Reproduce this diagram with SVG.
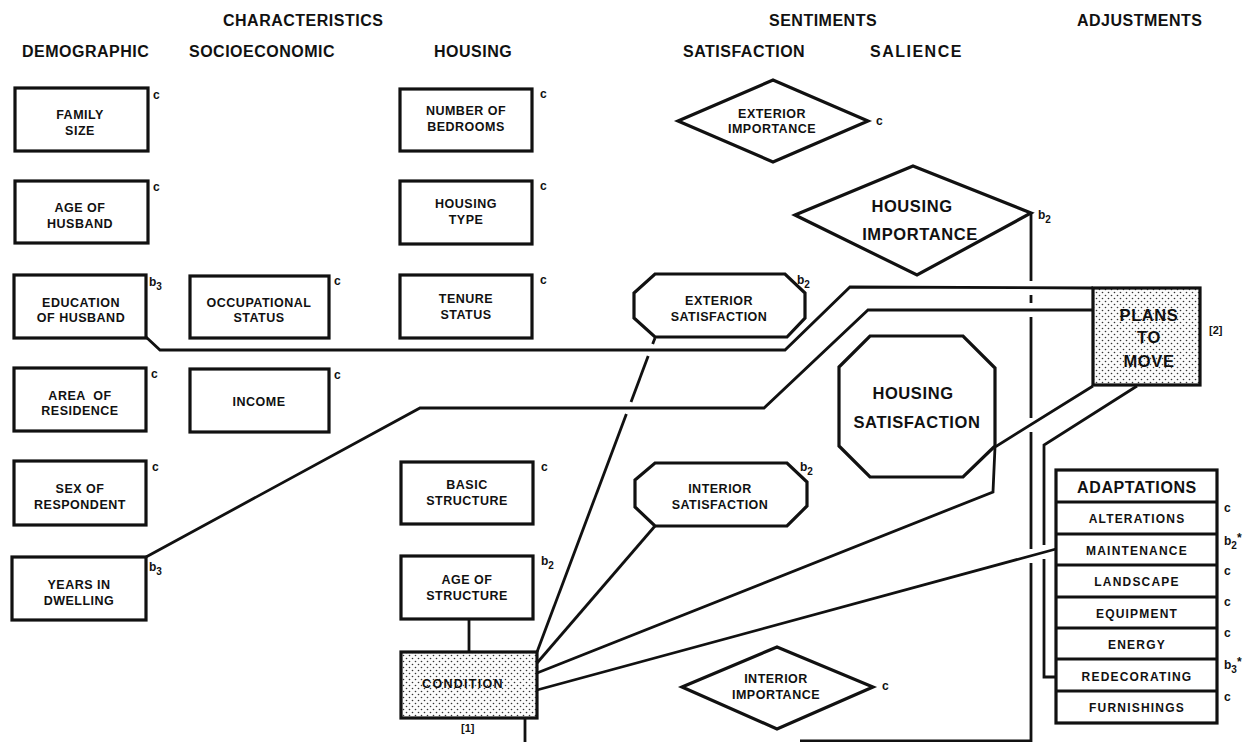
<svg xmlns="http://www.w3.org/2000/svg" width="1255" height="742" viewBox="0 0 1255 742">
  <style>
    text { font-family: "Liberation Sans", Arial, Helvetica, sans-serif; font-weight: bold; fill: #111; }
    .hdr { font-size: 16px; letter-spacing: 0.5px; }
    .lbl { font-size: 12.5px; letter-spacing: 0.5px; text-anchor: middle; }
    .big { font-size: 16.5px; letter-spacing: 0.6px; text-anchor: middle; }
    .row { font-size: 12px; letter-spacing: 1.2px; text-anchor: middle; }
    .note { font-size: 12px; }
    .sub { font-size: 10px; }
    .box { fill: #fff; stroke: #111; stroke-width: 3.2; stroke-linejoin: miter; }
    .dot { fill: url(#stipple); stroke: #111; stroke-width: 3.2; }
    .ln { fill: none; stroke: #111; stroke-width: 2.8; stroke-linejoin: miter; stroke-linecap: butt; }
  </style>
  <defs>
    <pattern id="stipple" width="6" height="6" patternUnits="userSpaceOnUse">
      <rect width="6" height="6" fill="#fbfbfb"/>
      <circle cx="1.5" cy="1.5" r="0.8" fill="#333"/>
      <circle cx="4.5" cy="4.5" r="0.8" fill="#333"/>
    </pattern>
  </defs>

  <rect width="1255" height="742" fill="#fff"/>

  <!-- column headings -->
  <g id="headings">
    <text class="hdr" x="223" y="26">CHARACTERISTICS</text>
    <text class="hdr" x="22" y="57">DEMOGRAPHIC</text>
    <text class="hdr" x="189" y="57">SOCIOECONOMIC</text>
    <text class="hdr" x="434" y="57">HOUSING</text>
    <text class="hdr" x="769" y="26">SENTIMENTS</text>
    <text class="hdr" x="683" y="57">SATISFACTION</text>
    <text class="hdr" x="870" y="57" style="letter-spacing:1.5px">SALIENCE</text>
    <text class="hdr" x="1077" y="26">ADJUSTMENTS</text>
  </g>

  <!-- connectors -->
  <g id="connectors">
    <!-- education of husband to plans to move -->
    <polyline class="ln" points="146,337 160,350 785,350 850,287 1093,288"/>
    <!-- years in dwelling to plans to move -->
    <polyline class="ln" points="146,557 420,408 764,408 868,310 1093,310"/>
    <!-- condition to exterior satisfaction (broken at crossings) -->
    <line class="ln" x1="537" y1="652" x2="626.4" y2="414"/>
    <line class="ln" x1="631" y1="402" x2="648.2" y2="356"/>
    <line class="ln" x1="652.7" y1="344" x2="655" y2="338"/>
    <!-- condition to interior satisfaction -->
    <line class="ln" x1="537" y1="663" x2="655" y2="526"/>
    <!-- condition to housing satisfaction to plans to move -->
    <polyline class="ln" points="537,673 993,492 995,447 1093,386"/>
    <!-- condition to maintenance -->
    <line class="ln" x1="537" y1="690" x2="1056" y2="549"/>
    <!-- housing importance down the page (broken at crossings) -->
    <line class="ln" x1="1031" y1="213" x2="1031" y2="281"/>
    <line class="ln" x1="1031" y1="295" x2="1031" y2="303"/>
    <line class="ln" x1="1031" y1="317" x2="1031" y2="418"/>
    <line class="ln" x1="1031" y1="432" x2="1031" y2="549"/>
    <polyline class="ln" points="1031,563 1031,741 800,741"/>
    <!-- plans to move to redecorating -->
    <polyline class="ln" points="1137,386 1044,445 1044,545"/>
    <polyline class="ln" points="1044,559 1044,677 1056,677"/>
    <!-- age of structure to condition, condition down the page -->
    <line class="ln" x1="469" y1="619" x2="469" y2="652"/>
    <line class="ln" x1="525" y1="718" x2="525" y2="742"/>
  </g>

  <!-- demographic characteristics -->
  <g id="family-size">
    <rect class="box" x="15" y="88" width="133" height="63"/>
    <text class="lbl" x="80" y="119">FAMILY</text>
    <text class="lbl" x="80" y="135">SIZE</text>
    <text class="note" x="153" y="99">c</text>
  </g>
  <g id="age-of-husband">
    <rect class="box" x="15" y="181" width="133" height="62"/>
    <text class="lbl" x="80" y="212">AGE OF</text>
    <text class="lbl" x="80" y="228">HUSBAND</text>
    <text class="note" x="153" y="191">c</text>
  </g>
  <g id="education-of-husband">
    <rect class="box" x="14" y="275" width="132" height="63"/>
    <text class="lbl" x="81" y="307">EDUCATION</text>
    <text class="lbl" x="81" y="322">OF HUSBAND</text>
    <text class="note" x="149" y="286">b<tspan class="sub" dy="4">3</tspan></text>
  </g>
  <g id="area-of-residence">
    <rect class="box" x="14" y="368" width="132" height="63"/>
    <text class="lbl" x="80" y="400" xml:space="preserve">AREA  OF</text>
    <text class="lbl" x="80" y="415">RESIDENCE</text>
    <text class="note" x="151" y="378">c</text>
  </g>
  <g id="sex-of-respondent">
    <rect class="box" x="14" y="461" width="132" height="64"/>
    <text class="lbl" x="80" y="493">SEX OF</text>
    <text class="lbl" x="80" y="509">RESPONDENT</text>
    <text class="note" x="152" y="471">c</text>
  </g>
  <g id="years-in-dwelling">
    <rect class="box" x="12" y="557" width="134" height="63"/>
    <text class="lbl" x="79" y="589">YEARS IN</text>
    <text class="lbl" x="79" y="605">DWELLING</text>
    <text class="note" x="149" y="571">b<tspan class="sub" dy="4">3</tspan></text>
  </g>

  <!-- socioeconomic characteristics -->
  <g id="occupational-status">
    <rect class="box" x="190" y="276" width="139" height="62"/>
    <text class="lbl" x="259" y="307">OCCUPATIONAL</text>
    <text class="lbl" x="259" y="322">STATUS</text>
    <text class="note" x="334" y="285">c</text>
  </g>
  <g id="income">
    <rect class="box" x="190" y="369" width="139" height="63"/>
    <text class="lbl" x="259" y="406">INCOME</text>
    <text class="note" x="334" y="379">c</text>
  </g>

  <!-- housing characteristics -->
  <g id="number-of-bedrooms">
    <rect class="box" x="400" y="89" width="132" height="62"/>
    <text class="lbl" x="466" y="115">NUMBER OF</text>
    <text class="lbl" x="466" y="131">BEDROOMS</text>
    <text class="note" x="540" y="98">c</text>
  </g>
  <g id="housing-type">
    <rect class="box" x="400" y="181" width="132" height="63"/>
    <text class="lbl" x="466" y="208">HOUSING</text>
    <text class="lbl" x="466" y="224">TYPE</text>
    <text class="note" x="540" y="190">c</text>
  </g>
  <g id="tenure-status">
    <rect class="box" x="400" y="275" width="132" height="63"/>
    <text class="lbl" x="466" y="303">TENURE</text>
    <text class="lbl" x="466" y="319">STATUS</text>
    <text class="note" x="540" y="284">c</text>
  </g>
  <g id="basic-structure">
    <rect class="box" x="401" y="462" width="132" height="62"/>
    <text class="lbl" x="467" y="489">BASIC</text>
    <text class="lbl" x="467" y="505">STRUCTURE</text>
    <text class="note" x="541" y="471">c</text>
  </g>
  <g id="age-of-structure">
    <rect class="box" x="401" y="556" width="132" height="63"/>
    <text class="lbl" x="467" y="584">AGE OF</text>
    <text class="lbl" x="467" y="600">STRUCTURE</text>
    <text class="note" x="541" y="565">b<tspan class="sub" dy="4">2</tspan></text>
  </g>
  <g id="condition">
    <rect class="dot" x="401" y="652" width="136" height="66"/>
    <text class="lbl" x="463" y="688" style="letter-spacing:1.3px">CONDITION</text>
    <text class="note" x="461" y="732" style="font-size:11px">[1]</text>
  </g>

  <!-- sentiments -->
  <g id="exterior-importance">
    <polygon class="box" points="678,121 773,80 868,121 773,162"/>
    <text class="lbl" x="772" y="118">EXTERIOR</text>
    <text class="lbl" x="772" y="133">IMPORTANCE</text>
    <text class="note" x="876" y="125">c</text>
  </g>
  <g id="housing-importance">
    <polygon class="box" points="795,215 913,166 1031,213 917,275"/>
    <text class="big" x="912" y="212">HOUSING</text>
    <text class="big" x="920" y="240">IMPORTANCE</text>
    <text class="note" x="1038" y="219">b<tspan class="sub" dy="4">2</tspan></text>
  </g>
  <g id="exterior-satisfaction">
    <polygon class="box" points="655,274 785,274 805,293 805,318 787,337 655,337 634,318 634,293"/>
    <text class="lbl" x="719" y="305">EXTERIOR</text>
    <text class="lbl" x="719" y="321">SATISFACTION</text>
    <text class="note" x="797" y="284">b<tspan class="sub" dy="4">2</tspan></text>
  </g>
  <g id="interior-satisfaction">
    <polygon class="box" points="655,463 787,463 807,482 807,506 787,526 655,526 635,507 635,480"/>
    <text class="lbl" x="720" y="493">INTERIOR</text>
    <text class="lbl" x="720" y="509">SATISFACTION</text>
    <text class="note" x="800" y="471">b<tspan class="sub" dy="4">2</tspan></text>
  </g>
  <g id="housing-satisfaction">
    <polygon class="box" points="870,336 963,336 995,368 995,446 963,477 870,477 839,446 839,367"/>
    <text class="big" x="913" y="399">HOUSING</text>
    <text class="big" x="917" y="428">SATISFACTION</text>
  </g>
  <g id="interior-importance">
    <polygon class="box" points="682,687 777,647 873,687 777,729"/>
    <text class="lbl" x="776" y="683">INTERIOR</text>
    <text class="lbl" x="776" y="699">IMPORTANCE</text>
    <text class="note" x="882" y="690">c</text>
  </g>

  <!-- adjustments -->
  <g id="plans-to-move">
    <rect class="dot" x="1093" y="288" width="107" height="97"/>
    <text class="big" x="1149" y="321">PLANS</text>
    <text class="big" x="1149" y="343">TO</text>
    <text class="big" x="1149" y="367">MOVE</text>
    <text class="note" x="1209" y="334" style="font-size:11px">[2]</text>
  </g>
  <g id="adaptations">
    <rect class="box" x="1056" y="470" width="161" height="253"/>
    <path class="ln" style="stroke-width:3" d="M1056,502H1217M1056,534H1217M1056,565H1217M1056,597H1217M1056,628H1217M1056,659H1217M1056,691H1217"/>
    <text class="big" x="1137" y="493" style="font-size:16px">ADAPTATIONS</text>
    <text class="row" x="1137" y="523">ALTERATIONS</text>
    <text class="row" x="1137" y="555">MAINTENANCE</text>
    <text class="row" x="1137" y="586">LANDSCAPE</text>
    <text class="row" x="1137" y="618">EQUIPMENT</text>
    <text class="row" x="1137" y="649">ENERGY</text>
    <text class="row" x="1137" y="681">REDECORATING</text>
    <text class="row" x="1137" y="712">FURNISHINGS</text>
    <text class="note" x="1224" y="512">c</text>
    <text class="note" x="1224" y="545">b<tspan class="sub" dy="4">2</tspan><tspan dy="-7">*</tspan></text>
    <text class="note" x="1224" y="575">c</text>
    <text class="note" x="1224" y="606">c</text>
    <text class="note" x="1224" y="637">c</text>
    <text class="note" x="1224" y="669">b<tspan class="sub" dy="4">3</tspan><tspan dy="-7">*</tspan></text>
    <text class="note" x="1224" y="701">c</text>
  </g>
</svg>
